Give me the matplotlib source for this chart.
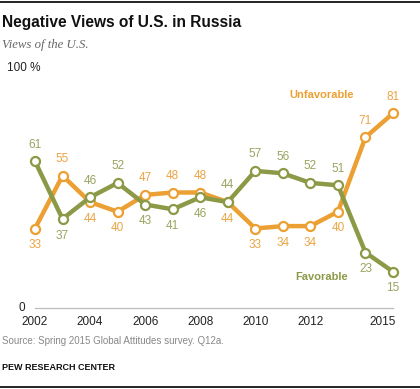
import matplotlib
matplotlib.use("Agg")
import matplotlib.pyplot as plt

years = [2002, 2003, 2004, 2005, 2006, 2007, 2008, 2009, 2010, 2011, 2012, 2013, 2014, 2015]
favorable = [61, 37, 46, 52, 43, 41, 46, 44, 57, 56, 52, 51, 23, 15]
unfavorable = [33, 55, 44, 40, 47, 48, 48, 44, 33, 34, 34, 40, 71, 81]
tick_years = [2002, 2004, 2006, 2008, 2010, 2012, 2015]

# label above (+1) or below (-1) each point
fav_pos = [1, -1, 1, 1, -1, -1, -1, 1, 1, 1, 1, 1, -1, -1]
unf_pos = [-1, 1, -1, -1, 1, 1, 1, -1, -1, -1, -1, -1, 1, 1]

GREEN = "#8c9a47"
GREEN_TXT = "#9ba35f"
ORANGE = "#eca033"
ORANGE_TXT = "#eba446"

plt.rcParams['font.family'] = ['Liberation Sans', 'DejaVu Sans']

W, H = 420, 389
fig = plt.figure(figsize=(W / 100, H / 100), dpi=100)

# axes spans 2002..2015 in x, 0..100 in y
x0, x1 = 35, 393
y0, y100 = 307.7, 67.7
ax = fig.add_axes([x0 / W, (H - y0) / H, (x1 - x0) / W, (y0 - y100) / H])
ax.set_xlim(2002, 2015)
ax.set_ylim(0, 100)
ax.axis("off")

ax.plot([2002, 2015], [0, 0], color="#bdbdbd", lw=0.9, clip_on=False)

for vals, col, txtcol, pos in [(unfavorable, ORANGE, ORANGE_TXT, unf_pos),
                                (favorable, GREEN, GREEN_TXT, fav_pos)]:
    ax.plot(years, vals, color=col, lw=3.2, marker="o", ms=6.5,
            mfc="white", mec=col, mew=1.6, clip_on=False, zorder=3)
    for x, v, p in zip(years, vals, pos):
        ax.annotate(str(v), (x, v), xytext=(0, 12 * p), textcoords="offset points",
                    ha="center", va="center", fontsize=8.5, color=txtcol)

ax.text(2012.4, 88.6, "Unfavorable", color=ORANGE, fontsize=8, fontweight="bold",
        ha="center", va="center")
ax.text(2012.4, 12.8, "Favorable", color=GREEN, fontsize=8, fontweight="bold",
        ha="center", va="center")

for y in tick_years:
    ha = "right" if y == 2015 else "center"
    xx = 2015.1 if y == 2015 else y
    ax.text(xx, -6, str(y), ha=ha, va="center", fontsize=8.5, color="#222222")

ax.text(2002 - 13 / 27.5, 0, "0", ha="center", va="center", fontsize=8.5, color="#222222")
ax.text(2002 - 28 / 27.5, 100, "100 %", ha="left", va="center", fontsize=8.5, color="#222222")

# header / footer
fig.add_artist(plt.Line2D([0, 1], [1 - 1.5 / H, 1 - 1.5 / H], color="black", lw=1.2))
fig.add_artist(plt.Line2D([0, 1], [2 / H, 2 / H], color="black", lw=1.2))
fig.text(2 / W, 1 - 22 / H, "Negative Views of U.S. in Russia", fontsize=11.2,
         fontweight="bold", ha="left", va="center", color="#111111")
fig.text(2 / W, 1 - 45 / H, "Views of the U.S.", fontsize=9.2, style="italic",
         family="Liberation Serif", ha="left", va="center", color="#666666")
fig.text(2 / W, 1 - 341 / H, "Source: Spring 2015 Global Attitudes survey. Q12a.",
         fontsize=7, ha="left", va="center", color="#888888")
fig.text(2 / W, 1 - 368 / H, "PEW RESEARCH CENTER", fontsize=6.5, fontweight="bold",
         ha="left", va="center", color="#111111")

fig.savefig("out.png", dpi=100)
